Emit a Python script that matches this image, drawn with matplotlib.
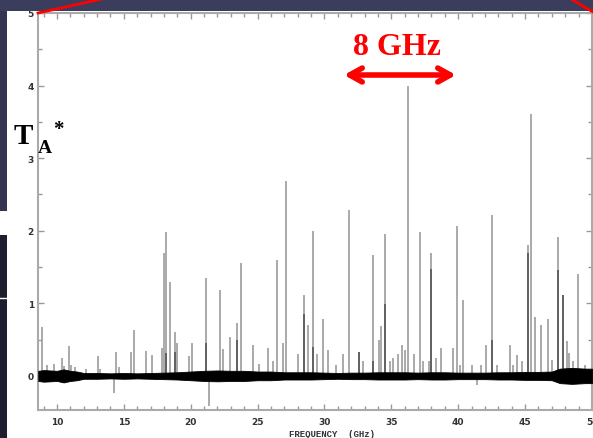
import matplotlib
matplotlib.use("Agg")
import matplotlib.pyplot as plt
from matplotlib.patches import Rectangle
from matplotlib.lines import Line2D
from matplotlib.ticker import MultipleLocator

# spectral lines: frequency (GHz), peak T_A* (K)
line_freq = [8.86, 9.25, 9.80, 10.37, 10.55, 10.87, 11.05, 11.37, 12.17, 13.04,
             13.24, 14.24, 14.41, 14.66, 15.53, 15.73, 16.65, 17.08, 17.83, 18.02,
             18.15, 18.42, 18.80, 18.95, 19.89, 20.07, 21.14, 21.39, 22.19, 22.39,
             22.93, 23.48, 23.78, 24.63, 25.13, 25.75, 26.15, 26.47, 26.87, 27.12,
             28.02, 28.44, 28.74, 29.14, 29.41, 29.86, 30.28, 30.86, 31.41, 31.83,
             32.56, 32.90, 33.60, 34.07, 34.22, 34.50, 34.90, 35.14, 35.47, 35.77,
             36.02, 36.27, 36.67, 37.16, 37.40, 37.79, 37.96, 38.30, 38.71, 39.63,
             39.88, 40.10, 40.33, 41.00, 41.40, 41.70, 42.07, 42.55, 42.90, 43.90,
             44.10, 44.37, 44.79, 45.21, 45.44, 45.74, 46.19, 46.69, 47.03, 47.48,
             47.85, 48.10, 48.30, 48.60, 48.93, 49.50]
line_peak = [0.68, 0.15, 0.17, 0.24, 0.13, 0.41, 0.15, 0.12, 0.10, 0.27,
             0.10, -0.24, 0.33, 0.12, 0.33, 0.63, 0.34, 0.29, 0.38, 1.70,
             1.98, 1.29, 0.60, 0.45, 0.27, 0.45, 1.35, -0.42, 1.18, 0.37,
             0.53, 0.73, 1.56, 0.43, 0.17, 0.38, 0.20, 1.60, 0.45, 2.69,
             0.30, 1.12, 0.70, 2.00, 0.30, 0.79, 0.36, 0.15, 0.30, 2.29,
             0.33, 0.20, 1.67, 0.50, 0.69, 1.96, 0.20, 0.25, 0.30, 0.42,
             0.35, 4.00, 0.30, 1.98, 0.20, 0.20, 1.69, 0.25, 0.39, 0.38,
             2.06, 0.15, 1.05, 0.15, -0.13, 0.15, 0.42, 2.21, 0.15, 0.42,
             0.15, 0.29, 0.20, 1.81, 3.61, 0.81, 0.70, 0.79, 0.22, 1.91,
             1.12, 0.48, 0.32, 0.20, 1.40, 0.15]

# darker overlapping parts of some lines
dark_freq = [18.15, 18.80, 21.14, 23.48, 28.44, 29.14, 32.56, 33.60, 34.50,
             37.96, 42.55, 45.21, 47.48, 47.85]
dark_peak = [0.31, 0.33, 0.45, 0.49, 0.85, 0.40, 0.33, 0.21, 0.99,
             1.47, 0.50, 1.70, 1.46, 1.12]

# rough half-width of the baseline noise band
noise_freq = [8.6, 9, 10, 10.5, 11, 11.5, 12, 13, 14, 15, 16, 17, 18, 19, 20, 21,
              22, 23, 24, 25, 26, 27, 28, 29, 30, 31, 32, 33, 34, 35, 36, 37, 38,
              39, 40, 41, 42, 43, 44, 45, 46, 47, 47.6, 48.5, 49.5, 50]
noise_amp = [0.07, 0.08, 0.07, 0.09, 0.07, 0.06, 0.04, 0.04, 0.035, 0.04, 0.035,
             0.04, 0.045, 0.05, 0.06, 0.07, 0.075, 0.07, 0.07, 0.06, 0.06, 0.05,
             0.05, 0.05, 0.045, 0.04, 0.045, 0.045, 0.05, 0.05, 0.05, 0.045, 0.05,
             0.05, 0.045, 0.045, 0.045, 0.05, 0.05, 0.055, 0.055, 0.06, 0.1, 0.11,
             0.1, 0.1]

W, H = 593, 439


def fx(px):
    return px / W


def fy(py):
    return 1 - py / H


fig = plt.figure(figsize=(W / 100, H / 100), dpi=100)
fig.patch.set_facecolor("white")

# slide background bits around the pasted plot
fig.add_artist(Rectangle((0, fy(12)), 1, 12 / H, transform=fig.transFigure,
                         color="#3b3d5c", lw=0))
fig.add_artist(Rectangle((0, fy(212)), 7 / W, 200 / H, transform=fig.transFigure,
                         color="#34364f", lw=0))
fig.add_artist(Rectangle((0, 0), 7 / W, fy(236), transform=fig.transFigure,
                         color="#1d1e2e", lw=0))
fig.add_artist(Line2D([0, fx(7)], [fy(299), fy(299)], transform=fig.transFigure,
                      color="white", lw=1))

ax = fig.add_axes([fx(38), fy(411), (592 - 38) / W, (411 - 14) / H])
ax.set_facecolor("white")

neg = [-a for a in noise_amp]
ax.fill_between(noise_freq, neg, noise_amp, color="black", lw=0.6, zorder=3)
ax.vlines(line_freq, 0, line_peak, color="#9c9c9c", lw=1.2, zorder=2)
ax.vlines(dark_freq, 0, dark_peak, color="#555555", lw=1.2, zorder=2)

ax.set_xlim(8.58, 50)
ax.set_ylim(-0.47, 5)

ax.xaxis.set_major_locator(MultipleLocator(5))
ax.xaxis.set_minor_locator(MultipleLocator(1))
ax.yaxis.set_major_locator(MultipleLocator(1))
ax.yaxis.set_minor_locator(MultipleLocator(0.5))
ax.tick_params(which="both", direction="in", top=True, right=True,
               color="#999999", width=1)
ax.tick_params(which="major", length=4)
ax.tick_params(which="minor", length=3)
ax.tick_params(axis="x", which="major", pad=5, labelsize=6.5, labelcolor="#333333")
ax.tick_params(axis="y", which="major", pad=3, labelsize=6.5, labelcolor="#333333")
for lab in ax.get_xticklabels() + ax.get_yticklabels():
    lab.set_fontweight("bold")
for s in ax.spines.values():
    s.set_color("#aaaaaa")
    s.set_linewidth(1.5)

fig.text(fx(332), fy(430), "FREQUENCY  (GHz)", family="Liberation Mono",
         fontweight="bold", fontsize=6.5, color="#333333", ha="center", va="top")

# T_A* label
fig.text(fx(14), fy(144), "T", family="Liberation Serif", fontweight="bold",
         fontsize=21, color="black", ha="left", va="baseline")
fig.text(fx(38), fy(153), "A", family="Liberation Serif", fontweight="bold",
         fontsize=14, color="black", ha="left", va="baseline")
fig.text(fx(53), fy(120), "*", family="Liberation Serif", fontweight="bold",
         fontsize=15, color="black", ha="left", va="top")

# 8 GHz annotation
fig.text(fx(397), fy(55), "8 GHz", family="Liberation Serif", fontweight="bold",
         fontsize=23, color="#ff0000", ha="center", va="baseline")
fig.add_artist(plt.Annotation("", xy=(fx(456), fy(76)), xytext=(fx(344), fy(76)),
                              xycoords="figure fraction", textcoords="figure fraction",
                              arrowprops=dict(arrowstyle="<->,head_length=0.9,head_width=0.5",
                                              color="#ff0000", lw=4,
                                              shrinkA=0, shrinkB=0,
                                              capstyle="round", joinstyle="round")))

# red zoom lines from the slide
fig.add_artist(Line2D([fx(38), fx(102)], [fy(14), fy(0)], transform=fig.transFigure,
                      color="#ff0000", lw=2))
fig.add_artist(Line2D([fx(593), fx(571)], [fy(13), fy(0)], transform=fig.transFigure,
                      color="#ff0000", lw=2))

fig.savefig("out.png", dpi=100)
